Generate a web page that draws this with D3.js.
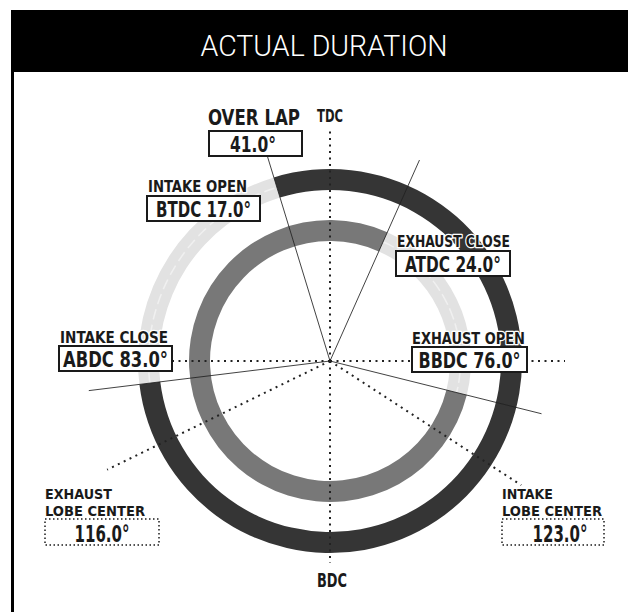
<!DOCTYPE html>
<html>
<head>
<meta charset="utf-8">
<script src="https://cdn.jsdelivr.net/npm/d3@7"></script>
<style>
  html, body { margin: 0; padding: 0; background: #fff; }
  svg { display: block; }
</style>
</head>
<body>
<script>
// ---- data ----
const title = "ACTUAL DURATION";
const eventNames = ["INTAKE OPEN", "INTAKE CLOSE", "EXHAUST OPEN", "EXHAUST CLOSE"];
const eventRefs = ["BTDC", "ABDC", "BBDC", "ATDC"];
const eventDegrees = [17.0, 83.0, 76.0, 24.0];
const lobeNames = ["EXHAUST", "INTAKE"];
const lobeRefs = ["BTDC", "ATDC"];
const lobeDegrees = [116.0, 123.0];
const overlapDegrees = 41.0;
const markerLabels = ["TDC", "BDC"];

// ---- setup ----
const W = 628, H = 612;
const cx = 330, cy = 361;
const svg = d3.select("body").append("svg").attr("width", W).attr("height", H);
const FONT = "'DejaVu Sans Condensed', 'Liberation Sans Narrow', 'DejaVu Sans', sans-serif";

const ang = d3.scaleLinear().domain([0, 360]).range([0, 2 * Math.PI]);
const refBase = { BTDC: [0, -1], ATDC: [0, 1], BBDC: [180, -1], ABDC: [180, 1] };
const toCrank = (ref, v) => refBase[ref][0] + refBase[ref][1] * v;
const ev = {};
eventNames.forEach((n, i) => ev[n] = toCrank(eventRefs[i], eventDegrees[i]));
const lobe = {};
lobeNames.forEach((n, i) => lobe[n] = toCrank(lobeRefs[i], lobeDegrees[i]));

// title bar and frame
svg.append("rect").attr("x", 11).attr("y", 10).attr("width", W - 11).attr("height", 62).attr("fill", "#000");
svg.append("rect").attr("x", 11).attr("y", 72).attr("width", 3).attr("height", H - 72).attr("fill", "#000");
svg.append("text").attr("x", 324).attr("y", 56).attr("text-anchor", "middle")
  .attr("font-family", "Roboto, 'Open Sans', sans-serif").attr("font-weight", 300)
  .attr("font-size", 30).attr("fill", "#fff")
  .attr("textLength", 247).attr("lengthAdjust", "spacingAndGlyphs").text(title);

const g = svg.append("g").attr("transform", `translate(${cx},${cy})`);
const pt = (deg, r) => [r * Math.sin(ang(deg)), -r * Math.cos(ang(deg))];

// rings
const outerArc = d3.arc().innerRadius(171).outerRadius(192);
const innerArc = d3.arc().innerRadius(120).outerRadius(141);
const ringLayer = g.append("g");
function lightBand(arcGen, r0, r1, a0, a1) {
  ringLayer.append("path").attr("d", arcGen({ startAngle: ang(a0), endAngle: ang(a1) })).attr("fill", "#e2e2e2");
  const mid = d3.arc().innerRadius((r0 + r1) / 2).outerRadius((r0 + r1) / 2);
  ringLayer.append("path").attr("d", mid({ startAngle: ang(a0), endAngle: ang(a1) }))
    .attr("fill", "none").attr("stroke", "#f0f0f0").attr("stroke-width", 1.5).attr("stroke-dasharray", "10 6");
}
lightBand(outerArc, 171, 192, ev["INTAKE CLOSE"], ev["INTAKE OPEN"] + 360);
ringLayer.append("path").attr("d", outerArc({ startAngle: ang(ev["INTAKE OPEN"]), endAngle: ang(ev["INTAKE CLOSE"]) }))
  .attr("fill", "#353535");
lightBand(innerArc, 120, 141, ev["EXHAUST CLOSE"], ev["EXHAUST OPEN"]);
ringLayer.append("path").attr("d", innerArc({ startAngle: ang(ev["EXHAUST OPEN"]), endAngle: ang(ev["EXHAUST CLOSE"] + 360) }))
  .attr("fill", "#787878");

// reference lines
const lineLayer = g.append("g");
function ray(deg, r, dotted) {
  const [x, y] = pt(deg, r);
  const l = lineLayer.append("line").attr("x1", 0).attr("y1", 0).attr("x2", x).attr("y2", y)
    .attr("stroke", "#222");
  if (dotted) l.attr("stroke-width", 2).attr("stroke-dasharray", "2 4.5");
  else l.attr("stroke-width", 1).attr("opacity", 0.85);
}
ray(0, 230, true);
ray(180, 202, true);
ray(90, 235, true);
ray(270, 235, true);
ray(lobe["INTAKE"], 228, true);
ray(lobe["EXHAUST"], 248, true);
ray(ev["INTAKE OPEN"], 215, false);
ray(ev["EXHAUST CLOSE"], 220, false);
ray(ev["EXHAUST OPEN"], 218, false);
ray(ev["INTAKE CLOSE"], 243, false);

// labels
const lab = svg.append("g");
function txt(s, x, y, size, len, anchor) {
  return lab.append("text").attr("x", x).attr("y", y).attr("text-anchor", anchor || "start")
    .attr("font-family", FONT).attr("font-weight", "bold").attr("font-size", size)
    .attr("fill", "#1a1a1a").attr("stroke", "#fff").attr("stroke-width", 2.5)
    .attr("paint-order", "stroke").attr("stroke-linejoin", "round")
    .attr("textLength", len).attr("lengthAdjust", "spacingAndGlyphs").text(s);
}
function box(x, y, w, h, dotted) {
  const r = lab.append("rect").attr("x", x).attr("y", y).attr("width", w).attr("height", h)
    .attr("fill", "#fff").attr("stroke", "#1a1a1a");
  if (dotted) r.attr("stroke-width", 1.5).attr("stroke-dasharray", "1.5 2.5");
  else r.attr("stroke-width", 2);
}
const fmt = v => v.toFixed(1) + "°";

// TDC / BDC
txt(markerLabels[0], 330, 122, 17, 26, "middle");
txt(markerLabels[1], 332, 587, 20, 30, "middle");

// overlap
txt("OVER LAP", 208, 125, 21, 92);
box(209, 131, 93, 25, false);
txt(fmt(overlapDegrees), 253, 152, 21, 46, "middle");

// event labels
function eventLabel(i, lx, ly, lw, bx, by, bw, vw) {
  txt(eventNames[i], lx, ly, 15, lw);
  box(bx, by, bw, 25, false);
  txt(eventRefs[i] + " " + fmt(eventDegrees[i]), bx + bw / 2, by + 21, 21, vw, "middle");
}
eventLabel(0, 148, 192, 99, 147, 196, 113, 95);
eventLabel(3, 397, 247, 113, 396, 251, 114, 96);
eventLabel(2, 412, 344, 113, 412, 347, 115, 102);
eventLabel(1, 60, 343, 108, 59, 346, 113, 105);

// lobe centers
function lobeLabel(i, lx, bx, bw, vx, vw) {
  txt(lobeNames[i], lx, 499, 14, lobeNames[i] === "EXHAUST" ? 67 : 51);
  txt("LOBE CENTER", lx, 516, 14, 100);
  box(bx, 519, bw, 26, true);
  txt(fmt(lobeDegrees[i]), vx, 542, 23, vw, "middle");
}
lobeLabel(0, 45, 45, 114, 102, 55);
lobeLabel(1, 502, 502, 102, 560, 55);
</script>
</body>
</html>
